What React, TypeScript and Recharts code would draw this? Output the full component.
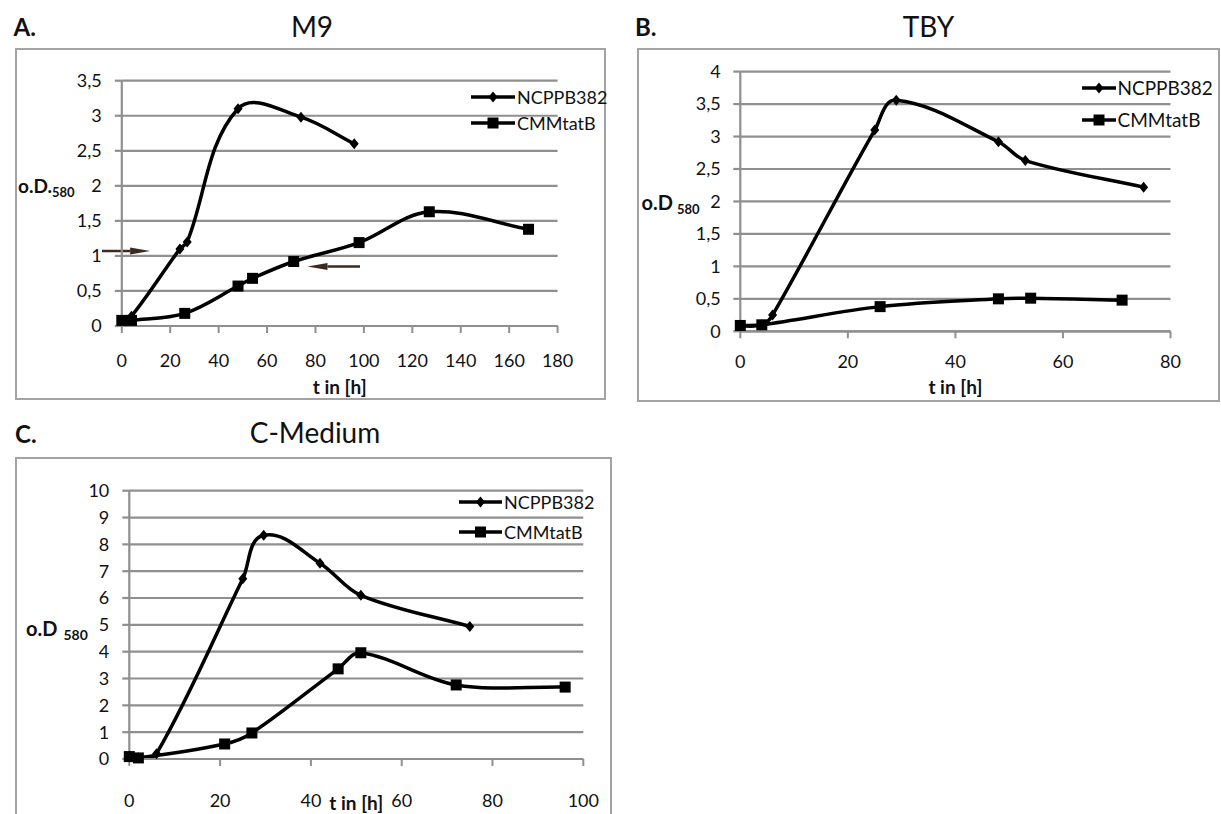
import {
  LineChart,
  Line,
  XAxis,
  YAxis,
  CartesianGrid,
  Legend,
  ReferenceLine,
  Label,
} from "recharts";

const FONT = "Lato, 'Open Sans', sans-serif";
const GRID = "#8f8f8f";
const FRAME = "#a3a3a3";
const INK = "#111";
const ARROW = "#3b2a22";

type Pt = { t: number; od: number };

// M9 medium
const M9_X_TICKS = [0, 20, 40, 60, 80, 100, 120, 140, 160, 180];
const M9_Y_TICKS = [0, 0.5, 1, 1.5, 2, 2.5, 3, 3.5];
const M9_NCPPB: Pt[] = [
  { t: 0, od: 0.08 },
  { t: 4, od: 0.14 },
  { t: 24, od: 1.1 },
  { t: 27, od: 1.2 },
  { t: 48, od: 3.1 },
  { t: 74, od: 2.98 },
  { t: 96, od: 2.6 },
];
const M9_CMM: Pt[] = [
  { t: 0, od: 0.08 },
  { t: 4, od: 0.08 },
  { t: 26, od: 0.18 },
  { t: 48, od: 0.57 },
  { t: 54, od: 0.68 },
  { t: 71, od: 0.92 },
  { t: 98, od: 1.19 },
  { t: 127, od: 1.63 },
  { t: 168, od: 1.38 },
];
// arrows marking the sampling points
const M9_ARROWS = [
  { from: { x: -8.2, y: 1.07 }, to: { x: 11.7, y: 1.07 } },
  { from: { x: 98.4, y: 0.85 }, to: { x: 76.7, y: 0.85 } },
];

// TBY medium
const TBY_X_TICKS = [0, 20, 40, 60, 80];
const TBY_Y_TICKS = [0, 0.5, 1, 1.5, 2, 2.5, 3, 3.5, 4];
const TBY_NCPPB: Pt[] = [
  { t: 0, od: 0.08 },
  { t: 4, od: 0.1 },
  { t: 6, od: 0.25 },
  { t: 25, od: 3.1 },
  { t: 29, od: 3.56 },
  { t: 48, od: 2.92 },
  { t: 53, od: 2.63 },
  { t: 75, od: 2.22 },
];
const TBY_CMM: Pt[] = [
  { t: 0, od: 0.09 },
  { t: 4, od: 0.1 },
  { t: 26, od: 0.38 },
  { t: 48, od: 0.5 },
  { t: 54, od: 0.51 },
  { t: 71, od: 0.48 },
];

// C-Medium
const CM_X_TICKS = [0, 20, 40, 60, 80, 100];
const CM_Y_TICKS = [0, 1, 2, 3, 4, 5, 6, 7, 8, 9, 10];
const CM_NCPPB: Pt[] = [
  { t: 0, od: 0.1 },
  { t: 2, od: 0.05 },
  { t: 6, od: 0.2 },
  { t: 25, od: 6.72 },
  { t: 29.6, od: 8.34 },
  { t: 42, od: 7.3 },
  { t: 51, od: 6.1 },
  { t: 75, od: 4.94 },
];
const CM_CMM: Pt[] = [
  { t: 0, od: 0.09 },
  { t: 2, od: 0.04 },
  { t: 21, od: 0.56 },
  { t: 27, od: 0.97 },
  { t: 46, od: 3.36 },
  { t: 51, od: 3.96 },
  { t: 72, od: 2.76 },
  { t: 96, od: 2.68 },
];

const SERIES = ["NCPPB382", "CMMtatB"];

// Excel-style smoothed line: bezier through the points, tangent from the
// neighbours, arm length limited to a third of the segment
function excelSmooth(context: any) {
  let pts: number[][] = [];
  const tangent = (i: number) => {
    const a = pts[i - 1] || pts[i];
    const b = pts[i + 1] || pts[i];
    const dx = b[0] - a[0];
    const dy = b[1] - a[1];
    const len = Math.hypot(dx, dy) || 1;
    return [dx / len, dy / len];
  };
  return {
    areaStart() {},
    areaEnd() {},
    lineStart() {
      pts = [];
    },
    point(x: number, y: number) {
      pts.push([+x, +y]);
    },
    lineEnd() {
      const n = pts.length;
      if (!n) return;
      context.moveTo(pts[0][0], pts[0][1]);
      for (let i = 0; i < n - 1; i++) {
        const p1 = pts[i];
        const p2 = pts[i + 1];
        const seg = Math.hypot(p2[0] - p1[0], p2[1] - p1[1]) / 3;
        const t1 = tangent(i);
        const t2 = tangent(i + 1);
        context.bezierCurveTo(
          p1[0] + t1[0] * seg,
          p1[1] + t1[1] * seg,
          p2[0] - t2[0] * seg,
          p2[1] - t2[1] * seg,
          p2[0],
          p2[1]
        );
      }
    },
  };
}

const fmt = (v: number) => String(v).replace(".", ",");

function diamond(cx: number, cy: number, key?: any) {
  return (
    <polygon
      key={key}
      points={`${cx},${cy - 5.5} ${cx + 4.5},${cy} ${cx},${cy + 5.5} ${cx - 4.5},${cy}`}
      fill="#000"
    />
  );
}

function square(cx: number, cy: number, key?: any) {
  return <rect key={key} x={cx - 5.5} y={cy - 5.5} width={11} height={11} fill="#000" />;
}

const diamondDot = (p: any) =>
  p.cx == null ? <g key={p.index} /> : diamond(p.cx, p.cy, p.index);
const squareDot = (p: any) =>
  p.cx == null ? <g key={p.index} /> : square(p.cx, p.cy, p.index);

const arrowShape = (p: any) => {
  const { x1, y1, x2, y2 } = p;
  const dir = x2 > x1 ? 1 : -1;
  const head = 20;
  return (
    <g>
      <line x1={x1} y1={y1} x2={x2 - dir * head} y2={y2} stroke={ARROW} strokeWidth={2.5} />
      <polygon
        points={`${x2},${y2} ${x2 - dir * head},${y2 - 3.5} ${x2 - dir * head},${y2 + 3.5}`}
        fill={ARROW}
      />
    </g>
  );
};

type PanelProps = {
  left: number;
  top: number;
  width: number;
  height: number;
  margin: { top: number; right: number; bottom: number; left: number };
  xDomain: [number, number];
  xTicks: number[];
  yDomain: [number, number];
  yTicks: number[];
  ncppb: Pt[];
  cmm: Pt[];
  xTickMargin: number;
  yTickMargin: number;
  yLabel: { x: number; y: number; text: string; size: number; sub: number; gap: number };
  xLabelDy: number;
  legend: { left: number; top: number; row: number; line: number; size: number };
  arrows?: { from: { x: number; y: number }; to: { x: number; y: number } }[];
};

function Panel(p: PanelProps) {
  const tick = { fill: INK, fontSize: 18, fontFamily: FONT };
  const legendContent = () => (
    <div style={{ fontFamily: FONT, fontSize: p.legend.size, color: INK }}>
      {SERIES.map((name, i) => (
        <div key={name} style={{ display: "flex", alignItems: "center", height: p.legend.row }}>
          <svg width={p.legend.line} height={14} style={{ display: "block" }}>
            <line x1={0} x2={p.legend.line} y1={7} y2={7} stroke="#000" strokeWidth={3.5} />
            {i === 0 ? diamond(p.legend.line / 2, 7) : square(p.legend.line / 2, 7)}
          </svg>
          <span style={{ marginLeft: 2, whiteSpace: "nowrap" }}>{name}</span>
        </div>
      ))}
    </div>
  );

  return (
    <>
      <div
        style={{
          position: "absolute",
          left: p.left,
          top: p.top,
          width: p.width,
          height: p.height,
          border: `2px solid ${FRAME}`,
          boxSizing: "border-box",
        }}
      />
      <div style={{ position: "absolute", left: p.left, top: p.top }}>
        <LineChart width={p.width} height={p.height} margin={p.margin}>
          <CartesianGrid vertical={false} stroke={GRID} strokeWidth={2.2} />
          <XAxis
            type="number"
            dataKey="t"
            domain={p.xDomain}
            ticks={p.xTicks}
            interval={0}
            height={50}
            tick={tick}
            tickSize={7}
            tickMargin={p.xTickMargin}
            axisLine={{ stroke: GRID, strokeWidth: 2.2 }}
            tickLine={{ stroke: GRID, strokeWidth: 2 }}
          >
            <Label
              content={({ viewBox }: any) => (
                <text
                  x={viewBox.x + viewBox.width / 2}
                  y={viewBox.y + p.xLabelDy}
                  textAnchor="middle"
                  fontFamily={FONT}
                  fontWeight={700}
                  fontSize={19}
                  fill={INK}
                >
                  t in [h]
                </text>
              )}
            />
          </XAxis>
          <YAxis
            type="number"
            domain={p.yDomain}
            ticks={p.yTicks}
            interval={0}
            width={40}
            tick={tick}
            tickFormatter={fmt}
            tickSize={7}
            tickMargin={p.yTickMargin}
            axisLine={{ stroke: GRID, strokeWidth: 2.2 }}
            tickLine={{ stroke: GRID, strokeWidth: 2.2 }}
          >
            <Label
              content={() => (
                <text
                  x={p.yLabel.x}
                  y={p.yLabel.y}
                  fontFamily={FONT}
                  fontWeight={700}
                  fontSize={p.yLabel.size}
                  fill={INK}
                >
                  {p.yLabel.text}
                  <tspan dx={p.yLabel.gap} dy={4} fontSize={p.yLabel.sub}>
                    580
                  </tspan>
                </text>
              )}
            />
          </YAxis>
          <Legend
            layout="vertical"
            align="center"
            verticalAlign="middle"
            content={legendContent}
            wrapperStyle={{ left: p.legend.left, top: p.legend.top, width: "auto", height: "auto" }}
          />
          <Line
            data={p.ncppb}
            dataKey="od"
            name="NCPPB382"
            type={excelSmooth as any}
            stroke="#000"
            strokeWidth={3.5}
            dot={diamondDot}
            activeDot={false}
            isAnimationActive={false}
          />
          <Line
            data={p.cmm}
            dataKey="od"
            name="CMMtatB"
            type={excelSmooth as any}
            stroke="#000"
            strokeWidth={3.5}
            dot={squareDot}
            activeDot={false}
            isAnimationActive={false}
          />
          {(p.arrows || []).map((a, i) => (
            <ReferenceLine
              key={i}
              segment={[a.from, a.to]}
              ifOverflow="visible"
              shape={arrowShape}
            />
          ))}
        </LineChart>
      </div>
    </>
  );
}

function Title({ x, y, size, bold, center, children }: any) {
  return (
    <div
      style={{
        position: "absolute",
        left: x,
        top: y,
        fontSize: size,
        fontWeight: bold ? 700 : 400,
        lineHeight: 1,
        whiteSpace: "nowrap",
        color: INK,
        transform: center ? "translateX(-50%)" : undefined,
      }}
    >
      {children}
    </div>
  );
}

export default function App() {
  return (
    <div
      style={{
        position: "absolute",
        left: 0,
        top: 0,
        width: 1221,
        height: 814,
        background: "#fff",
        overflow: "hidden",
        fontFamily: FONT,
      }}
    >
      <Title x={13.6} y={15} size={24} bold>A.</Title>
      <Title x={312} y={12} size={28} center>M9</Title>
      <Title x={635} y={15} size={24} bold>B.</Title>
      <Title x={928.5} y={12} size={28} center>TBY</Title>
      <Title x={15} y={422} size={24} bold>C.</Title>
      <Title x={315} y={418} size={28} center>C-Medium</Title>

      <Panel
        left={15}
        top={48}
        width={591}
        height={352}
        margin={{ top: 32.7, right: 48.4, bottom: 24, left: 66.8 }}
        xDomain={[0, 180]}
        xTicks={M9_X_TICKS}
        yDomain={[0, 3.5]}
        yTicks={M9_Y_TICKS}
        ncppb={M9_NCPPB}
        cmm={M9_CMM}
        xTickMargin={21}
        yTickMargin={13}
        yLabel={{ x: 3, y: 144.5, text: "o.D.", size: 19, sub: 13, gap: 0 }}
        xLabelDy={68}
        legend={{ left: 456, top: 36, row: 26, line: 44, size: 18 }}
        arrows={M9_ARROWS}
      />
      <Panel
        left={636.5}
        top={47.7}
        width={583}
        height={354}
        margin={{ top: 23.6, right: 49.5, bottom: 20.7, left: 63.3 }}
        xDomain={[0, 80]}
        xTicks={TBY_X_TICKS}
        yDomain={[0, 4]}
        yTicks={TBY_Y_TICKS}
        ncppb={TBY_NCPPB}
        cmm={TBY_CMM}
        xTickMargin={17}
        yTickMargin={12.5}
        yLabel={{ x: 4.5, y: 162, text: "o.D", size: 20, sub: 13, gap: 4 }}
        xLabelDy={63}
        legend={{ left: 445, top: 24.3, row: 32, line: 34, size: 19 }}
      />
      <Panel
        left={15}
        top={457}
        width={597}
        height={363}
        margin={{ top: 33.7, right: 28.7, bottom: 11, left: 74.3 }}
        xDomain={[0, 100]}
        xTicks={CM_X_TICKS}
        yDomain={[0, 10]}
        yTicks={CM_Y_TICKS}
        ncppb={CM_NCPPB}
        cmm={CM_CMM}
        xTickMargin={28}
        yTickMargin={13}
        yLabel={{ x: 11, y: 179, text: "o.D", size: 20, sub: 14, gap: 6 }}
        xLabelDy={51}
        legend={{ left: 444, top: 30, row: 30, line: 43, size: 18 }}
      />
    </div>
  );
}
